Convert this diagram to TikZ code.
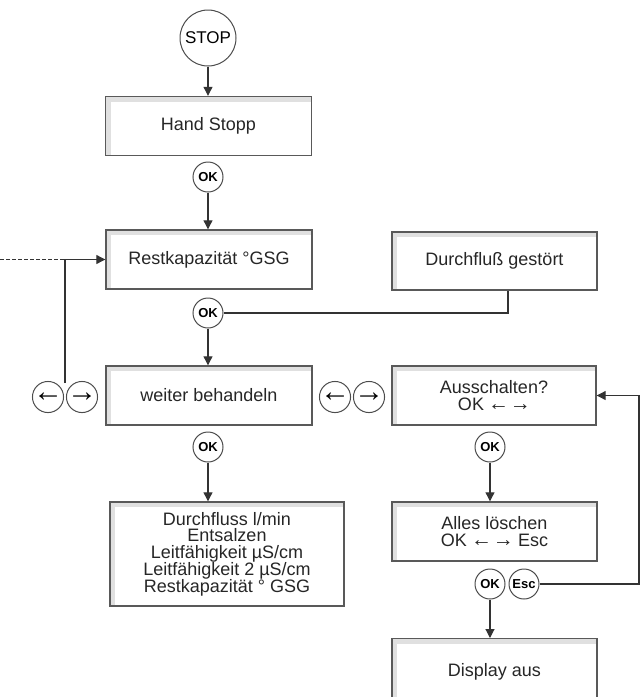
\documentclass[tikz,border=0pt]{standalone}
\usepackage{fontspec}
\setmainfont{Liberation Sans}
\usepackage{tikz}
\usetikzlibrary{arrows.meta}
\usetikzlibrary{calc}

\newcommand{\lar}{\kern-1pt\smash{\fontsize{21}{16}\selectfont ←}\kern-1pt}
\newcommand{\rar}{\kern-1pt\smash{\fontsize{21}{16}\selectfont →}\kern-1pt}

\begin{document}
\begin{tikzpicture}[x=1pt,y=-1pt,
 line/.style={draw=black!80,line width=1.1pt},
 arr/.style={line,-{Triangle[width=9pt,length=9pt]}},
 screen/.style={rectangle,draw=black!65,line width=1.4pt,minimum width=206pt,minimum height=59pt,inner sep=0pt,align=center,
  font=\fontsize{18}{16.8}\selectfont,text=black!85,
  path picture={\fill[black!12] (path picture bounding box.north west) rectangle ([xshift=5pt]path picture bounding box.south west);
   \fill[black!12] (path picture bounding box.north west) rectangle ([yshift=-5pt]path picture bounding box.north east);}},
 key/.style={circle,draw=black!70,line width=1pt,minimum size=30pt,inner sep=0pt,font=\bfseries\fontsize{13}{13}\selectfont},
 dir/.style={key,font=\fontsize{30}{30}\selectfont}]
 \useasboundingbox (0,0) rectangle (640,697);
 \node[circle,draw=black!70,line width=1pt,minimum size=56pt,inner sep=0pt,font=\fontsize{17}{17}\selectfont] (stop) at (208,38) {STOP};
 \node[screen] (hand) at (208.5,126) {Hand Stopp};
 \node[key] (ok1) at (208,177) {OK};
 \node[screen] (rest) at (209,259.5) {Restkapazität °GSG};
 \node[screen,minimum width=205pt,minimum height=58pt] (flow) at (494.5,261) {Durchfluß gestört};
 \node[key] (ok2) at (208,313) {OK};
 \node[screen] (cont) at (209,395.5) {weiter behandeln};
 \node[dir] (back1) at (48,397) {←};
 \node[dir] (fwd1) at (82,397) {→};
 \node[dir] (back2) at (335,397) {←};
 \node[dir] (fwd2) at (369,397) {→};
 \node[screen,minimum width=204pt] (off) at (494,395.5) {Ausschalten?\\OK \lar\kern3pt\rar};
 \node[key] (ok3) at (490,447) {OK};
 \node[screen,minimum width=205pt] (clear) at (494.5,531.5) {Alles löschen\\OK \lar\kern3pt\rar\ Esc};
 \node[key] (ok4) at (490,584) {OK};
 \node[key] (esc) at (524,584) {Esc};
 \node[screen,minimum width=205pt,minimum height=66pt,anchor=north] (dark) at (494.5,638) {Display aus};
 \node[key] (ok5) at (208,447) {OK};
 \node[screen,minimum width=234pt,minimum height=104pt] (values) at (227,554) {Durchfluss l/min\\Entsalzen\\Leitfähigkeit µS/cm\\Leitfähigkeit 2 µS/cm\\Restkapazität ° GSG};

 \coordinate (gap) at (65,383);
 \coordinate (edge) at (0,259.5);
 \coordinate (rim) at (639,584);

 \draw[arr] (stop) -- (stop |- hand.north);
 \draw[arr] (ok1) -- (ok1 |- rest.north);
 \draw[arr] (ok2) -- (ok2 |- cont.north);
 \draw[line] (ok2.east) -| ([xshift=13.5pt]flow.south);
 \draw[arr] (ok5) -- (ok5 |- values.north);
 \draw[line,dash pattern=on 4pt off 2pt] (edge) -- (edge -| gap);
 \draw[arr] (gap) |- (rest.west);
 \draw[arr] (ok3) -- (ok3 |- clear.north);
 \draw[arr] (ok4) -- (ok4 |- dark.north);
 \draw[arr] (esc) -- (rim) |- (off.east);
\end{tikzpicture}
\end{document}
